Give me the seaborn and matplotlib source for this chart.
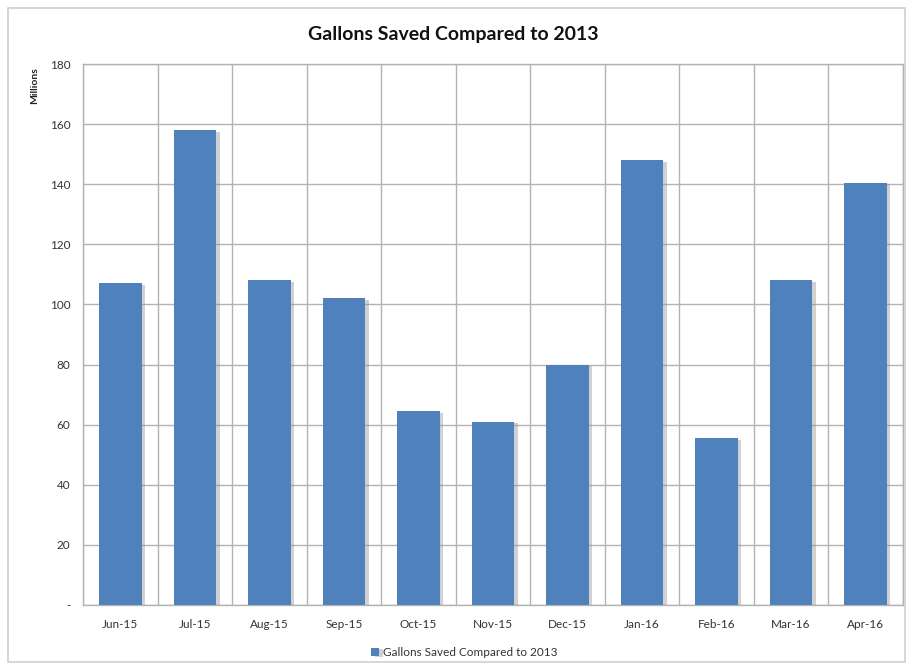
import numpy as np
import pandas as pd
import seaborn as sns
import matplotlib.pyplot as plt
import matplotlib.patheffects as pe
from matplotlib.patches import Rectangle

months = ["Jun-15", "Jul-15", "Aug-15", "Sep-15", "Oct-15", "Nov-15",
          "Dec-15", "Jan-16", "Feb-16", "Mar-16", "Apr-16"]
gallons = [107, 158, 108, 102, 64.5, 61, 80, 148, 55.5, 108, 140.5]
y_ticks = [0, 20, 40, 60, 80, 100, 120, 140, 160, 180]
y_labels = ["-", "20", "40", "60", "80", "100", "120", "140", "160", "180"]
series_name = "Gallons Saved Compared to 2013"

BAR = "#4F81BD"
GRID = "#b3b3b3"

sns.set_theme(style="white")
plt.rcParams["font.family"] = ["Lato", "DejaVu Sans"]

df = pd.DataFrame({"Month": months, "Gallons": gallons})

fig = plt.figure(figsize=(9.06, 6.69), dpi=100)
ax = fig.add_axes([0.0916, 0.0957, 0.905, 0.8086])

sns.barplot(data=df, x="Month", y="Gallons", color=BAR, width=0.57,
            saturation=1, ax=ax, label=series_name, zorder=3)

for bar in ax.patches:
    bar.set_edgecolor("none")
    bar.set_path_effects([pe.SimplePatchShadow(offset=(2.5, -1), shadow_rgbFace="#8c8c8c", alpha=0.4),
                          pe.Normal()])

ax.set_ylim(0, 180)
ax.set_xlim(-0.5, len(months) - 0.5)
ax.set_yticks(y_ticks)
ax.set_yticklabels(y_labels)
ax.set_xticks(np.arange(-0.5, len(months), 1.0), minor=True)
ax.grid(True, axis="y", which="major", color=GRID, linewidth=1, zorder=0)
ax.grid(True, axis="x", which="minor", color=GRID, linewidth=1, zorder=0)
ax.tick_params(axis="both", which="both", length=0, labelsize=8.5, colors="#333333")
ax.tick_params(axis="x", pad=10)
ax.tick_params(axis="y", pad=9)
for s in ax.spines.values():
    s.set_color(GRID)
    s.set_linewidth(1)

ax.set_xlabel("")
ax.set_ylabel("")
fig.text(0.038, 0.90, "Millions", rotation=90, ha="center", va="top",
         fontsize=7.5, fontweight="bold", color="#222222")

fig.text(0.5, 0.948, "Gallons Saved Compared to 2013", ha="center", va="center",
         fontsize=14, fontweight="bold", color="#111111")

leg = ax.legend(loc="upper center", bbox_to_anchor=(0.465, -0.058), frameon=False,
                fontsize=8.5, handlelength=0.7, handleheight=0.7, handletextpad=0.3)
for t in leg.get_texts():
    t.set_color("#333333")

fig.patches.append(Rectangle((0.009, 0.011), 0.99, 0.977, transform=fig.transFigure,
                             fill=False, edgecolor="#d0d0d0", linewidth=1.2))

fig.savefig("out.png", dpi=100)
